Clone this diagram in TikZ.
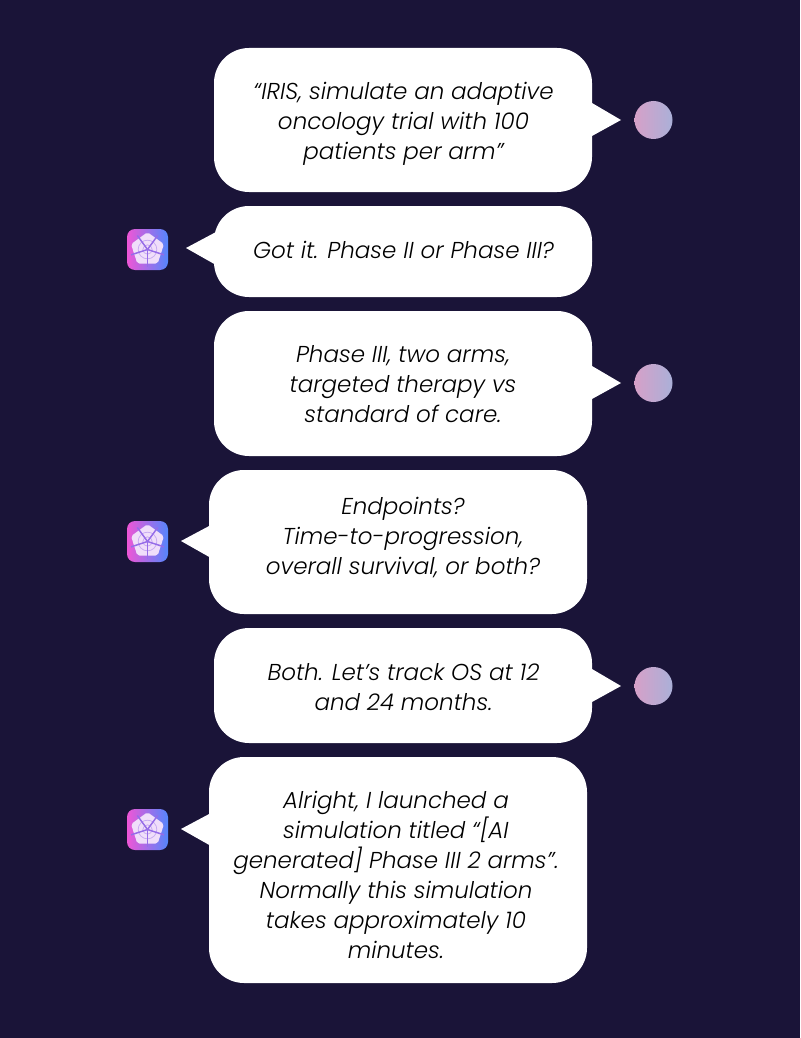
\documentclass[tikz,border=0pt]{standalone}
\usepackage{fontspec}
\setmainfont{Poppins Light Italic}
\usetikzlibrary{shapes.geometric}
\definecolor{nightbg}{RGB}{26,20,56}
\definecolor{userpink}{RGB}{214,160,200}
\definecolor{userblue}{RGB}{170,176,216}
\definecolor{apppink}{RGB}{238,86,214}
\definecolor{appviolet}{RGB}{170,100,240}
\definecolor{appblue}{RGB}{84,134,252}
\definecolor{logolight}{RGB}{240,222,250}
\definecolor{logoline}{RGB}{150,108,232}
\tikzset{
    bubble/.style={draw=none,fill=white,inner sep=0pt,rounded corners=26.25pt,minimum width=283.5pt},
    chattext/.style={text=black,align=center,inner sep=0pt,font=\fontsize{17.25}{22.5}\selectfont},
    usericon/.style={shape=circle,minimum size=28.5pt,inner sep=0pt,left color=userpink,right color=userblue},
    appicon/.style={shape=rectangle,rounded corners=6pt,minimum size=30.75pt,inner sep=0pt,
        left color=apppink,middle color=appviolet,right color=appblue},
    irislogo/.pic={
        \fill[logolight,rounded corners=1.5pt] (90:13pt) -- (18:13pt) -- (-54:13pt) -- (-126:13pt) -- (162:13pt) -- cycle;
        \draw[logoline,opacity=.5,line width=.5pt] (0,0) circle (3.5pt) (0,0) circle (7pt);
        \foreach \a in {54,126,198,270,342}
            \draw[logoline,line width=1.1pt] (0,0) -- (\a:13pt);
    }
}
\begin{document}
\begin{tikzpicture}[x=0.75pt,y=-0.75pt]
    \useasboundingbox[fill=nightbg] (0,0) rectangle (800,1038);

    \node[bubble,minimum height=108pt] (askA) at (403,120) {};
    \node[bubble,minimum height=68.25pt] (replyA) at (403,251.5) {};
    \node[bubble,minimum height=108.75pt] (askB) at (403,383.5) {};
    \node[bubble,minimum height=108pt] (replyB) at (398,542) {};
    \node[bubble,minimum height=86.25pt] (askC) at (403,685.5) {};
    \node[bubble,minimum height=169.5pt] (replyC) at (398,870) {};

    \node[chattext] (askAtext) at (403.5,124) {“IRIS, simulate an adaptive\\oncology trial with 100\\patients per arm”};
    \node[chattext] (replyAtext) at (403.5,249.5) {Got it. Phase II or Phase III?};
    \node[chattext] (askBtext) at (403,384.5) {Phase III, two arms,\\targeted therapy vs\\standard of care.};
    \node[chattext] (replyBtext) at (403,538) {Endpoints?\\Time-to-progression,\\overall survival, or both?};
    \node[chattext] (askCtext) at (403.5,687.5) {Both. Let’s track OS at 12\\and 24 months.};
    \node[chattext] (replyCtext) at (396,875) {Alright, I launched a\\simulation titled “[AI\\generated] Phase III 2 arms”.\\Normally this simulation\\takes approximately 10\\minutes.};

    \node[usericon] (userA) at (653.5,120) {};
    \node[usericon] (userB) at (653.5,383) {};
    \node[usericon] (userC) at (653.5,686) {};
    \node[appicon] (appA) at (147.5,249.5) {};
    \node[appicon] (appB) at (147.5,541.5) {};
    \node[appicon] (appC) at (147.5,829.5) {};
    \pic at (appA) {irislogo};
    \pic at (appB) {irislogo};
    \pic at (appC) {irislogo};

    \fill[white] (592,103) -- (621,120) -- (592,136) -- cycle;
    \fill[white] (592,366) -- (621,383) -- (592,399) -- cycle;
    \fill[white] (592,669) -- (621,686) -- (592,702) -- cycle;
    \fill[white] (216,232) -- (186,248) -- (216,265) -- cycle;
    \fill[white] (211,525) -- (181,541) -- (211,558) -- cycle;
    \fill[white] (211,813) -- (181,829) -- (211,846) -- cycle;
\end{tikzpicture}
\end{document}
